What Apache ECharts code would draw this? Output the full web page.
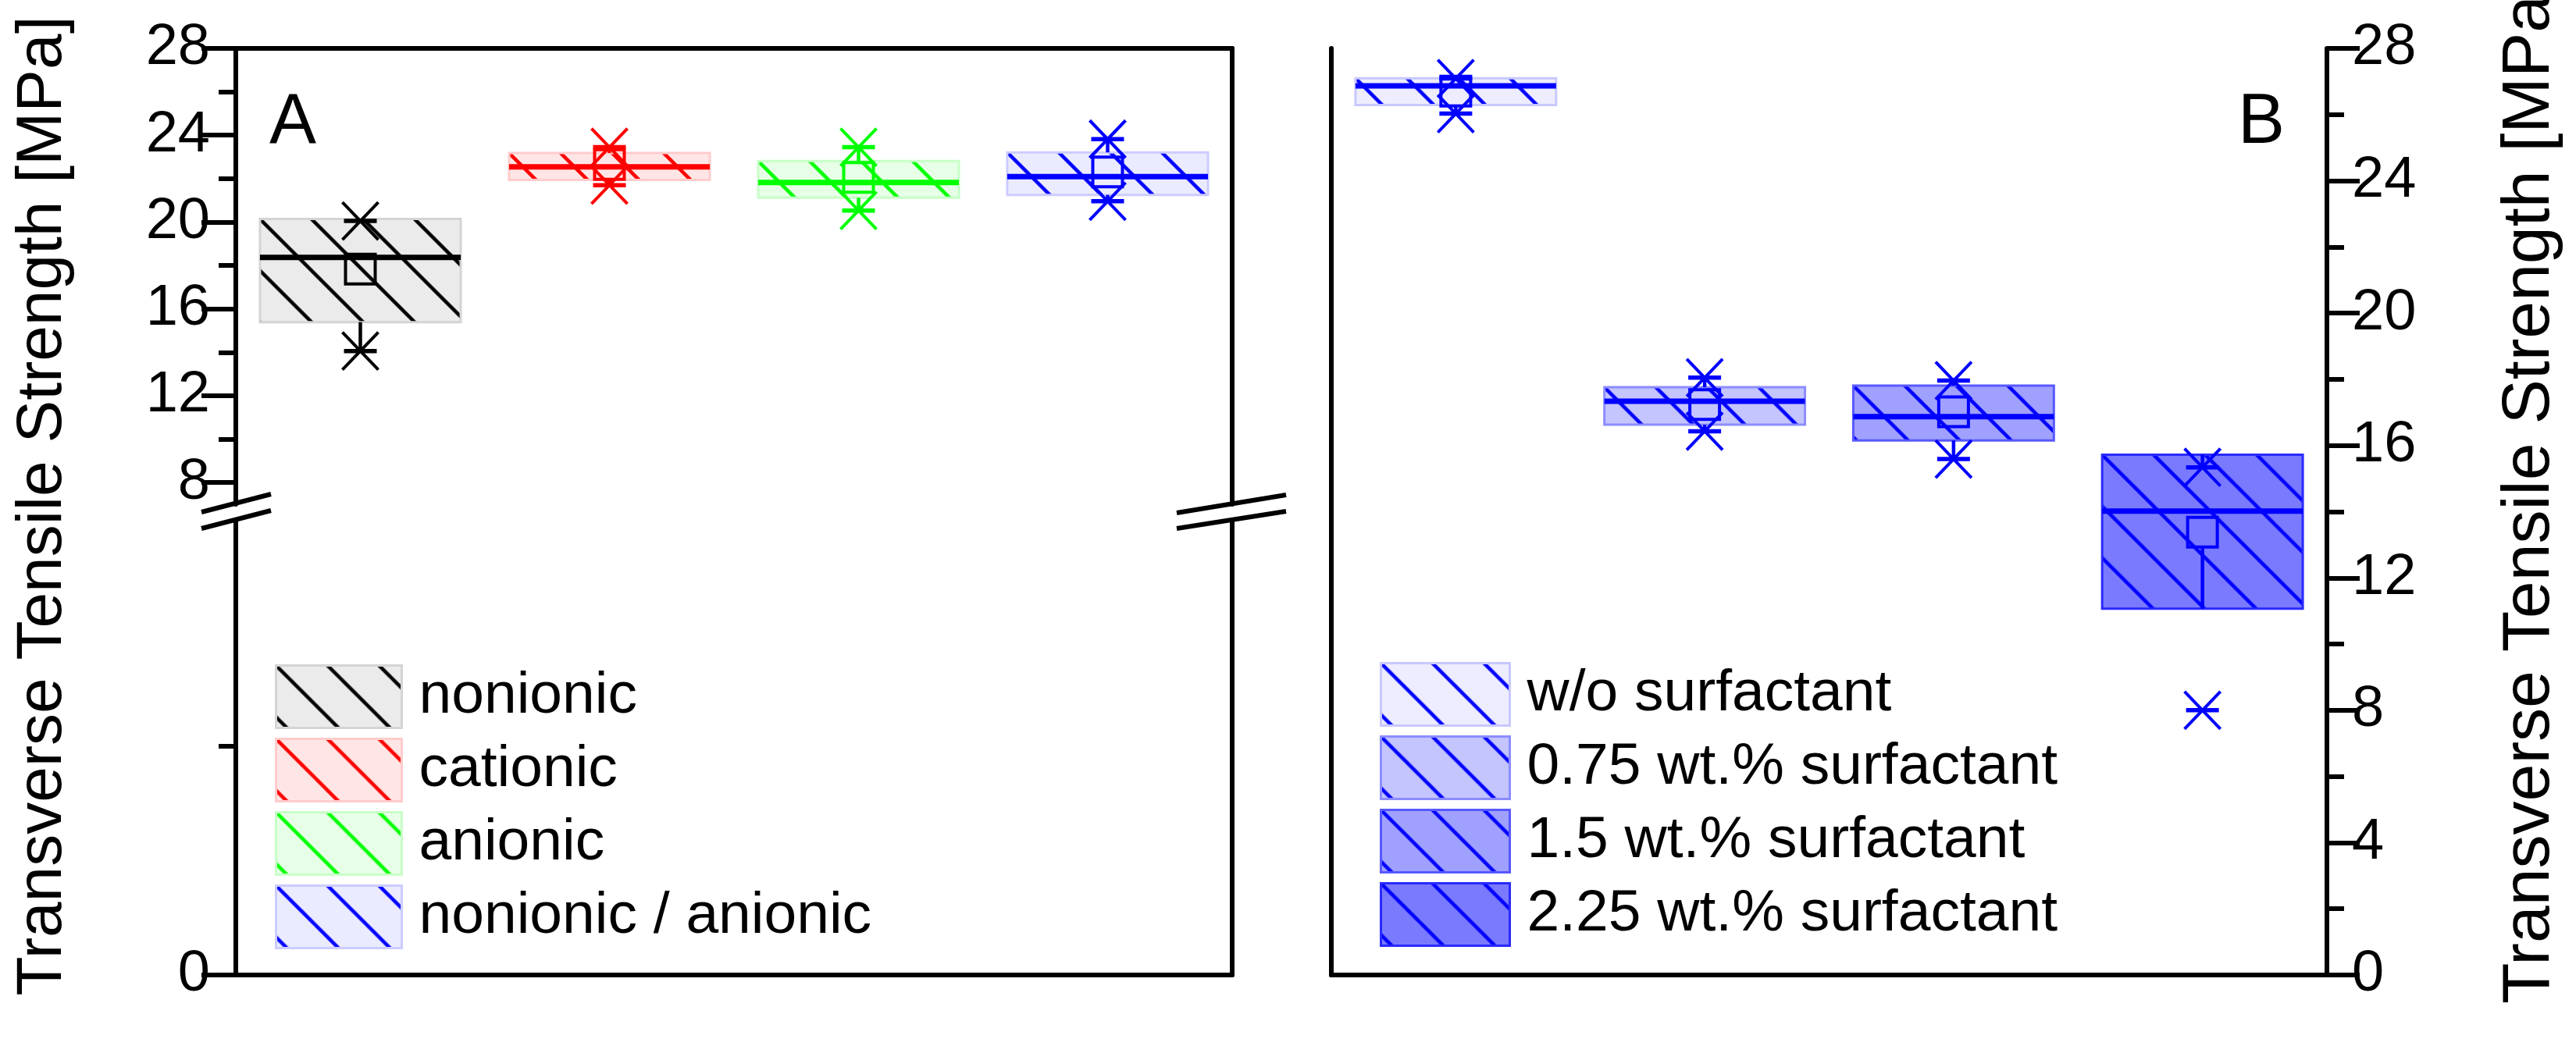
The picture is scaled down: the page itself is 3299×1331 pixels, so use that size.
<!DOCTYPE html>
<html>
<head>
<meta charset="utf-8">
<title>Transverse Tensile Strength</title>
<script src="https://cdn.jsdelivr.net/npm/echarts@6.0.0/dist/echarts.min.js"></script>
<style>
    html, body { margin: 0; padding: 0; background: #fff; }
    #chart { width: 3299px; height: 1331px; }
</style>
</head>
<body>
<div id="chart"></div>
<script>
// ---- data (panel A) ----
const leftCategories = ['nonionic', 'cationic', 'anionic', 'nonionic / anionic'];
const leftBoxLow = [15.39, 21.94, 21.12, 21.25];
const leftBoxHigh = [20.14, 23.18, 22.81, 23.21];
const leftMedian = [18.37, 22.54, 21.82, 22.09];
const leftMean = [17.83, 22.65, 22.06, 22.31];
const leftWhiskerLow = [14.06, 21.70, 20.53, 20.96];
const leftWhiskerHigh = [20.05, 23.45, 23.45, 23.82];
const leftMin = [14.06, 21.70, 20.53, 20.96];
const leftMax = [20.05, 23.45, 23.45, 23.82];

// ---- data (panel B) ----
const rightCategories = ['w/o surfactant', '0.75 wt.% surfactant', '1.5 wt.% surfactant', '2.25 wt.% surfactant'];
const rightBoxLow = [26.29, 16.63, 16.15, 11.07];
const rightBoxHigh = [27.10, 17.76, 17.81, 15.72];
const rightMedian = [26.87, 17.34, 16.87, 14.02];
const rightMean = [26.71, 17.24, 17.02, 13.38];
const rightWhiskerLow = [26.03, 16.43, 15.59, 12.90];
const rightWhiskerHigh = [27.09, 18.05, 17.96, 15.34];
const rightMin = [26.03, 16.43, 15.59, 8.0];
const rightMax = [27.09, 18.05, 17.96, 15.34];

// ---- tick labels ----
const leftUpperTicks = [8, 12, 16, 20, 24, 28];
const leftUpperMinorTicks = [10, 14, 18, 22, 26];
const leftLowerTicks = [0];
const leftLowerMinorTicks = [2];
const rightTicks = [0, 4, 8, 12, 16, 20, 24, 28];
const rightMinorTicks = [2, 6, 10, 14, 18, 22, 26];

// ---- styles ----
const FONT = '"Liberation Sans", Arial, Helvetica, sans-serif';
const leftLine = ['#000000', '#ff0000', '#00ff00', '#0000ff'];
const leftFill = ['#ebebeb', '#ffe6e6', '#e6ffe6', '#ebebff'];
const leftEdge = ['#d4d4d4', '#ffcccc', '#c8ffc8', '#ccccff'];
const rightLine = ['#0000ff', '#0000ff', '#0000ff', '#0000ff'];
const rightFill = ['#ededff', '#c4c4ff', '#a0a0ff', '#7a7aff'];
const rightEdge = ['#c8c8ff', '#8c8cff', '#5858ff', '#2a2aff'];

// 斜线填充
function hatchCanvas(line, fill) {
    const s = 66;
    const c = document.createElement('canvas');
    c.width = s;
    c.height = s;
    const ctx = c.getContext('2d');
    ctx.fillStyle = fill;
    ctx.fillRect(0, 0, s, s);
    ctx.strokeStyle = line;
    ctx.lineWidth = 4.5;
    ctx.beginPath();
    for (let k = -1; k <= 1; k++) {
        ctx.moveTo(k * s - 10, -10);
        ctx.lineTo(k * s + s + 10, s + 10);
    }
    ctx.stroke();
    return c;
}

function seg(x1, y1, x2, y2, color, width) {
    return { type: 'line', shape: { x1, y1, x2, y2 }, style: { stroke: color, lineWidth: width } };
}

function boxRenderer(lineColor, tile, edgeColor) {
    return function (params, api) {
        const cat = api.value(0);
        const band = api.size([1, 0])[0];
        const half = band * 0.403;
        const cx = api.coord([cat, 0])[0];
        const y = v => api.coord([cat, v])[1];
        const yLow = y(api.value(1));
        const yHigh = y(api.value(2));
        const yMed = y(api.value(3));
        const yMean = y(api.value(4));
        const yWLow = y(api.value(5));
        const yWHigh = y(api.value(6));
        const children = [
            {
                type: 'rect',
                shape: { x: cx - half, y: yHigh, width: 2 * half, height: yLow - yHigh },
                style: {
                    fill: { image: tile, repeat: 'repeat', x: cx - half, y: yHigh },
                    stroke: edgeColor,
                    lineWidth: 3
                }
            },
            seg(cx, yLow, cx, yWLow, lineColor, 4.5),
            seg(cx, yHigh, cx, yWHigh, lineColor, 4.5),
            seg(cx - half, yMed, cx + half, yMed, lineColor, 7),
            {
                type: 'rect',
                shape: { x: cx - 19, y: yMean - 19, width: 38, height: 38 },
                style: { fill: 'none', stroke: lineColor, lineWidth: 4 }
            }
        ];
        [y(api.value(7)), y(api.value(8))].forEach(my => {
            children.push(seg(cx - 23, my - 24, cx + 23, my + 24, lineColor, 4));
            children.push(seg(cx - 23, my + 24, cx + 23, my - 24, lineColor, 4));
            children.push(seg(cx - 21, my, cx + 21, my, lineColor, 5.5));
        });
        return { type: 'group', children };
    };
}

const leftTiles = leftLine.map((c, i) => hatchCanvas(c, leftFill[i]));
const rightTiles = rightLine.map((c, i) => hatchCanvas(c, rightFill[i]));

const leftSeries = leftCategories.map((name, i) => ({
    name,
    type: 'custom',
    xAxisIndex: 0,
    yAxisIndex: 0,
    renderItem: boxRenderer(leftLine[i], leftTiles[i], leftEdge[i]),
    data: [[i, leftBoxLow[i], leftBoxHigh[i], leftMedian[i], leftMean[i],
        leftWhiskerLow[i], leftWhiskerHigh[i], leftMin[i], leftMax[i]]]
}));

const rightSeries = rightCategories.map((name, i) => ({
    name,
    type: 'custom',
    xAxisIndex: 2,
    yAxisIndex: 6,
    renderItem: boxRenderer(rightLine[i], rightTiles[i], rightEdge[i]),
    data: [[i, rightBoxLow[i], rightBoxHigh[i], rightMedian[i], rightMean[i],
        rightWhiskerLow[i], rightWhiskerHigh[i], rightMin[i], rightMax[i]]]
}));

const axisLine = { show: true, lineStyle: { color: '#000', width: 6 } };
const noLine = { show: false };
const label = { color: '#000', fontSize: 74, fontFamily: FONT };

function frameAxis(gridIndex, position, min, max) {
    return {
        type: 'value', gridIndex, position, min, max,
        axisLine, axisTick: { show: false }, axisLabel: { show: false }, splitLine: { show: false }
    };
}

function tickAxis(gridIndex, position, min, max, ticks, length, withLabels, margin) {
    return {
        type: 'value', gridIndex, position, min, max,
        axisLine: withLabels ? axisLine : noLine,
        axisTick: { show: true, inside: false, length, customValues: ticks, lineStyle: { color: '#000', width: 6 } },
        axisLabel: withLabels ? Object.assign({ show: true, margin, customValues: ticks }, label) : { show: false },
        splitLine: { show: false }
    };
}

function legendFor(names, tiles, edges, left, top, width) {
    return {
        orient: 'vertical',
        left, top,
        padding: 0,
        itemWidth: width,
        itemHeight: 80,
        itemGap: 11,
        icon: 'rect',
        selectedMode: false,
        textStyle: { color: '#000', fontSize: 75, fontFamily: FONT, padding: [0, 0, 0, 17] },
        data: names.map((name, i) => ({
            name,
            itemStyle: { color: { image: tiles[i], repeat: 'repeat' }, borderColor: edges[i], borderWidth: 3 }
        }))
    };
}

const chart = echarts.init(document.getElementById('chart'));
chart.setOption({
    backgroundColor: '#fff',
    animation: false,
    textStyle: { fontFamily: FONT },
    grid: [
        { left: 302, top: 62, width: 1276, height: 584, outerBoundsMode: 'none' },
        { left: 302, top: 668, width: 1276, height: 581, outerBoundsMode: 'none' },
        { left: 1705, top: 62, width: 1275, height: 1187, outerBoundsMode: 'none' }
    ],
    xAxis: [
        { type: 'category', gridIndex: 0, position: 'top', data: leftCategories, axisLine, axisTick: { show: false }, axisLabel: { show: false } },
        { type: 'category', gridIndex: 1, position: 'bottom', data: leftCategories, axisLine, axisTick: { show: false }, axisLabel: { show: false } },
        { type: 'category', gridIndex: 2, position: 'top', data: rightCategories, axisLine, axisTick: { show: false }, axisLabel: { show: false } },
        { type: 'category', gridIndex: 2, position: 'bottom', data: rightCategories, axisLine, axisTick: { show: false }, axisLabel: { show: false } }
    ],
    yAxis: [
        tickAxis(0, 'left', 7, 28, leftUpperTicks, 44, true, 33),
        tickAxis(0, 'left', 7, 28, leftUpperMinorTicks, 22, false),
        frameAxis(0, 'right', 7, 28),
        tickAxis(1, 'left', 0, 3.966, leftLowerTicks, 44, true, 33),
        tickAxis(1, 'left', 0, 3.966, leftLowerMinorTicks, 22, false),
        frameAxis(1, 'right', 0, 3.966),
        tickAxis(2, 'right', 0, 28, rightTicks, 42, true, 32),
        tickAxis(2, 'right', 0, 28, rightMinorTicks, 22, false),
        frameAxis(2, 'left', 0, 28)
    ],
    legend: [
        legendFor(leftCategories, leftTiles, leftEdge, 352, 851, 161),
        legendFor(rightCategories, rightTiles, rightEdge, 1767, 848, 165)
    ],
    graphic: [
        { type: 'text', x: 55, y: 648, rotation: Math.PI / 2,
          style: { text: 'Transverse Tensile Strength [MPa]', fontSize: 82, fontFamily: FONT, fill: '#000', align: 'center', verticalAlign: 'middle' } },
        { type: 'text', x: 3240, y: 628, rotation: Math.PI / 2,
          style: { text: 'Transverse Tensile Strength [MPa]', fontSize: 86, fontFamily: FONT, fill: '#000', align: 'center', verticalAlign: 'middle' } },
        { type: 'text', x: 345, y: 158,
          style: { text: 'A', fontSize: 90, fontFamily: FONT, fill: '#000', align: 'left', verticalAlign: 'middle' } },
        { type: 'text', x: 2926, y: 158,
          style: { text: 'B', fontSize: 90, fontFamily: FONT, fill: '#000', align: 'right', verticalAlign: 'middle' } },
        // 断轴标记
        seg(258, 656, 347, 633, '#000', 6),
        seg(258, 677, 347, 654, '#000', 6),
        seg(1507, 657, 1647, 634, '#000', 6),
        seg(1507, 677, 1647, 655, '#000', 6)
    ],
    series: leftSeries.concat(rightSeries)
});
</script>
</body>
</html>
